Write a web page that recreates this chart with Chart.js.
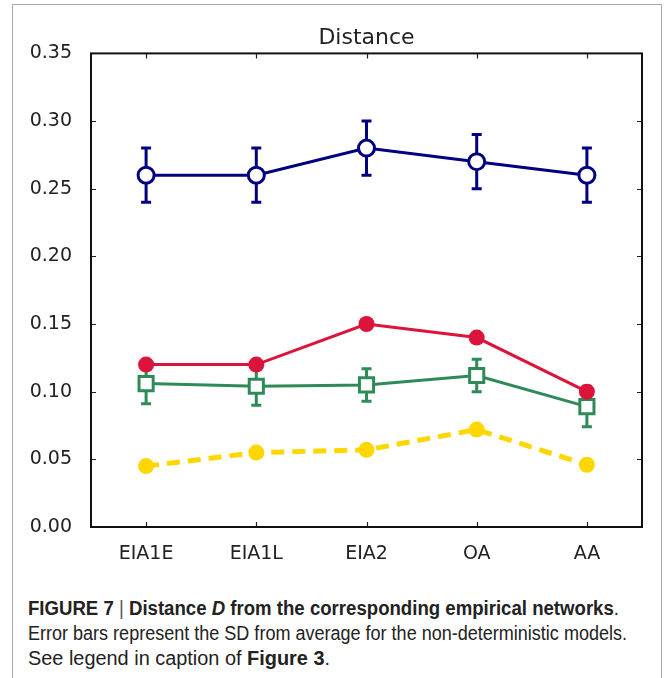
<!DOCTYPE html>
<html>
<head>
<meta charset="utf-8">
<script src="https://cdn.jsdelivr.net/npm/chart.js@4"></script>
<style>
  html, body { margin: 0; padding: 0; background: #fff; }
  body { width: 665px; height: 678px; position: relative; overflow: hidden; }
  #frame { position: absolute; left: 12px; top: 4px; width: 650px; height: 700px; border: 1px solid #aaa; box-sizing: border-box; }
  #wrap { position: absolute; left: 0; top: 0; width: 665px; height: 580px; }
  .cap { position: absolute; left: 28px; white-space: nowrap; font-family: "Liberation Sans", Arial, sans-serif; font-size: 20px; line-height: 23px; color: #222; transform-origin: 0 0; }
  .cap b { font-weight: bold; }
  .bar { font-weight: normal; color: #555; }
</style>
</head>
<body>
<div id="frame"></div>
<div id="wrap"><canvas id="chart" width="665" height="580"></canvas></div>
<div class="cap" id="cap1" style="top:597px"><b>FIGURE 7 <span class="bar">|</span> Distance <i>D</i> from the corresponding empirical networks</b>.</div>
<div class="cap" id="cap2" style="top:622px">Error bars represent the SD from average for the non-deterministic models.</div>
<div class="cap" id="cap3" style="top:647px">See legend in caption of <b>Figure 3</b>.</div>
<script>
const categories = ['EIA1E', 'EIA1L', 'EIA2', 'OA', 'AA']
const yTicks = [0, 0.05, 0.10, 0.15, 0.20, 0.25, 0.30, 0.35]

// navy open circles (with SD)
const blueVals = [0.26, 0.26, 0.28, 0.27, 0.26]
const blueErr = [0.02, 0.02, 0.02, 0.02, 0.02]
// crimson filled circles
const redVals = [0.12, 0.12, 0.15, 0.14, 0.10]
// green open squares (with SD)
const greenVals = [0.106, 0.104, 0.105, 0.112, 0.089]
const greenErr = [0.015, 0.014, 0.012, 0.012, 0.015]
// gold dashed
const goldVals = [0.045, 0.055, 0.057, 0.072, 0.046]

const fontAx = "'DejaVu Sans', sans-serif"

// error bars, drawn under lines and markers
const errorBars = {
  id: 'errorBars',
  beforeDatasetsDraw(chart) {
    const { ctx, scales: { x, y } } = chart
    chart.data.datasets.forEach(ds => {
      if (!ds.err) return
      ctx.save(); ctx.strokeStyle = ds.borderColor; ctx.lineWidth = 3
      ds.data.forEach((v, i) => {
        const px = x.getPixelForValue(i)
        const top = y.getPixelForValue(v + ds.err[i]), bot = y.getPixelForValue(v - ds.err[i])
        ctx.beginPath()
        ctx.moveTo(px, top); ctx.lineTo(px, bot)
        ctx.moveTo(px - 5, top); ctx.lineTo(px + 5, top)
        ctx.moveTo(px - 5, bot); ctx.lineTo(px + 5, bot)
        ctx.stroke()
      })
      ctx.restore()
    })
  }
}

// matplotlib-style frame with inward ticks on all four sides
const frameTicks = {
  id: 'frameTicks',
  afterDraw(chart) {
    const { ctx, chartArea: a, scales: { x, y } } = chart
    ctx.save(); ctx.strokeStyle = '#222'; ctx.lineWidth = 1.2
    ctx.beginPath()
    y.ticks.forEach(t => {
      const py = Math.round(y.getPixelForValue(t.value)) + 0.5
      ctx.moveTo(a.left, py); ctx.lineTo(a.left + 5, py)
      ctx.moveTo(a.right, py); ctx.lineTo(a.right - 5, py)
    })
    categories.forEach((c, i) => {
      const px = Math.round(x.getPixelForValue(i)) + 0.5
      ctx.moveTo(px, a.bottom); ctx.lineTo(px, a.bottom - 5)
      ctx.moveTo(px, a.top); ctx.lineTo(px, a.top + 5)
    })
    ctx.stroke()
    ctx.lineWidth = 2; ctx.strokeStyle = '#111'
    ctx.strokeRect(a.left, a.top, a.right - a.left, a.bottom - a.top)
    ctx.restore()
  }
}

new Chart(document.getElementById('chart'), {
  type: 'line',
  data: {
    labels: categories,
    datasets: [
      { data: blueVals, err: blueErr, borderColor: '#000080', backgroundColor: '#ffffff', borderWidth: 3,
        pointRadius: 8, pointBorderWidth: 3, pointStyle: 'circle', order: 1 },
      { data: redVals, borderColor: '#dc143c', backgroundColor: '#dc143c', borderWidth: 3,
        pointRadius: 8, pointBorderWidth: 0, pointStyle: 'circle', order: 2 },
      { data: greenVals, err: greenErr, borderColor: '#2e8b57', backgroundColor: '#ffffff', borderWidth: 3,
        pointRadius: 10, pointBorderWidth: 3, pointStyle: 'rect', order: 3 },
      { data: goldVals, borderColor: '#ffd700', backgroundColor: '#ffd700', borderWidth: 5, borderDash: [13, 8],
        pointRadius: 8, pointBorderWidth: 0, pointStyle: 'circle', order: 4 }
    ]
  },
  options: {
    responsive: false, animation: false,
    layout: { padding: { top: 0, right: 23, bottom: 0, left: 0 } },
    plugins: {
      legend: { display: false }, tooltip: { enabled: false },
      title: { display: true, text: 'Distance', fullSize: false, color: '#222',
        font: { family: fontAx, size: 22, weight: 'normal' }, padding: { top: 25, bottom: 2 } }
    },
    scales: {
      x: {
        offset: true,
        grid: { display: false, drawTicks: false }, border: { display: false },
        ticks: { color: '#222', font: { family: fontAx, size: 19 }, padding: 16, maxRotation: 0 },
        afterFit: s => { s.height = 53 }
      },
      y: {
        min: 0, max: 0.35,
        afterBuildTicks: s => { s.ticks = yTicks.map(v => ({ value: v })) },
        grid: { display: false, drawTicks: false }, border: { display: false },
        ticks: { color: '#222', font: { family: fontAx, size: 19 }, padding: 19, callback: v => v.toFixed(2) },
        afterFit: s => { s.width = 91 }
      }
    }
  },
  plugins: [errorBars, frameTicks]
})

// fit the caption lines to the widths in the figure
const capWidths = { cap1: 591, cap2: 599, cap3: 302 }
Object.keys(capWidths).forEach(id => {
  const el = document.getElementById(id)
  const w = el.getBoundingClientRect().width
  el.style.transform = `scaleX(${capWidths[id] / w})`
})
</script>
</body>
</html>
